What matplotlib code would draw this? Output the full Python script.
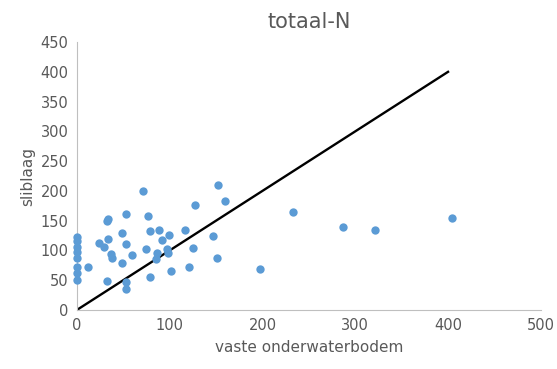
import matplotlib.pyplot as plt

# meetpunten: vaste onderwaterbodem (x) vs sliblaag (y)
vaste_bodem = [0, 0, 0, 0, 0, 0, 0, 0,
               12, 71, 53, 32, 34, 77, 49, 34, 24, 29, 53, 37, 38, 59, 49,
               79, 88, 99, 92, 74, 86, 85, 97, 98, 101, 32, 53, 53, 79,
               152, 160, 127, 117, 147, 125, 151, 121, 197,
               233, 287, 321, 404]
sliblaag = [123, 115, 106, 98, 88, 72, 62, 50,
            73, 199, 162, 150, 153, 158, 130, 119, 113, 105, 111, 94, 87, 92, 79,
            133, 135, 126, 117, 102, 95, 85, 102, 96, 66, 48, 47, 36, 56,
            210, 183, 176, 134, 125, 104, 88, 73, 69,
            164, 140, 134, 155]

# 1:1 lijn
lijn_x = [0, 400]
lijn_y = [0, 400]

grijs = '#595959'

fig = plt.figure(figsize=(5.57, 3.69), dpi=100)
ax = fig.add_axes([0.138, 0.160, 0.833, 0.726])

ax.scatter(vaste_bodem, sliblaag, s=36, color='#5B9BD5', zorder=3,
           linewidths=0, clip_on=False)
ax.plot(lijn_x, lijn_y, color='black', linewidth=1.7, zorder=2)

ax.set_xlim(0, 500)
ax.set_ylim(0, 450)
ax.set_xticks(range(0, 501, 100))
ax.set_yticks(range(0, 451, 50))

for side in ['top', 'right']:
    ax.spines[side].set_visible(False)
for side in ['left', 'bottom']:
    ax.spines[side].set_color('#BFBFBF')
    ax.spines[side].set_linewidth(0.8)
ax.tick_params(length=0, labelsize=10.5, labelcolor=grijs, pad=6)

ax.set_xlabel('vaste onderwaterbodem', fontsize=11, color=grijs, labelpad=5)
ax.set_ylabel('sliblaag', fontsize=11, color=grijs, labelpad=4)
ax.set_title('totaal-N', fontsize=15, color=grijs, pad=10)

fig.savefig('out.png', dpi=100)
